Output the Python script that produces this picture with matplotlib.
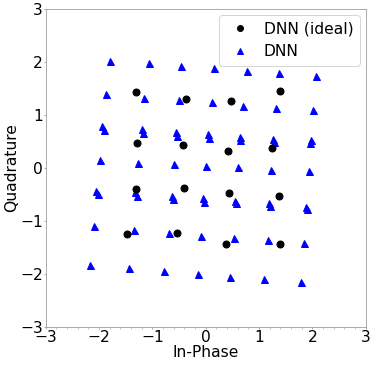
import matplotlib
matplotlib.use("Agg")
import matplotlib.pyplot as plt
from matplotlib.ticker import MultipleLocator

# ideal constellation (DNN ideal)
ideal_i = [-1.31, -0.36, -1.29, -0.43, 1.39, 0.47, 0.42, 1.25,
           -1.30, -0.41, -1.47, -0.54, 0.43, 1.38, 0.375, 1.39]
ideal_q = [1.43, 1.31, 0.48, 0.43, 1.46, 1.27, 0.33, 0.37,
           -0.39, -0.38, -1.24, -1.22, -0.47, -0.53, -1.43, -1.43]

# received points (DNN)
dnn_i = [-1.79, -1.86, -1.94, -1.91, -1.98, -2.05, -2.02, -2.10, -2.16,
         -1.07, -1.15, -1.20, -1.18, -1.26, -1.32, -1.28, -1.35, -1.44,
         -0.46, -0.50, -0.56, -0.53, -0.59, -0.63, -0.61, -0.69, -0.78,
         0.16, 0.11, 0.04, 0.06, 0.00, -0.05, -0.03, -0.08, -0.14,
         0.77, 0.70, 0.65, 0.65, 0.61, 0.55, 0.57, 0.53, 0.46,
         1.38, 1.32, 1.27, 1.28, 1.23, 1.19, 1.20, 1.16, 1.09,
         2.06, 2.01, 1.97, 1.96, 1.93, 1.88, 1.89, 1.85, 1.79]
dnn_q = [2.02, 1.39, 0.80, 0.72, 0.15, -0.43, -0.50, -1.09, -1.84,
         1.98, 1.33, 0.74, 0.66, 0.10, -0.46, -0.53, -1.17, -1.88,
         1.93, 1.29, 0.68, 0.60, 0.07, -0.52, -0.58, -1.23, -1.95,
         1.88, 1.24, 0.64, 0.56, 0.04, -0.56, -0.64, -1.29, -2.01,
         1.83, 1.17, 0.59, 0.53, 0.02, -0.62, -0.67, -1.32, -2.05,
         1.79, 1.13, 0.55, 0.50, -0.03, -0.67, -0.72, -1.36, -2.10,
         1.74, 1.10, 0.53, 0.48, -0.06, -0.73, -0.77, -1.41, -2.15]

fig = plt.figure(figsize=(374/72, 366/72), dpi=72)
ax = fig.add_axes([0.122, 0.107, 0.856, 0.868])

ax.plot(ideal_i, ideal_q, "o", color="black", markersize=7, label="DNN (ideal)", zorder=3)
ax.plot(dnn_i, dnn_q, "^", color="blue", markersize=7, label="DNN", zorder=2)

ax.set_xlim(-3, 3)
ax.set_ylim(-3, 3)
ax.set_xticks([-3, -2, -1, 0, 1, 2, 3])
ax.set_yticks([-3, -2, -1, 0, 1, 2, 3])
ax.xaxis.set_minor_locator(MultipleLocator(0.2))
ax.tick_params(axis="both", which="major", labelsize=15.5, length=2, color="0.6", pad=1)
ax.tick_params(axis="x", which="minor", length=1.5, color="0.6")
for s in ax.spines.values():
    s.set_color("0.6")

ax.set_xlabel("In-Phase", fontsize=15.5, labelpad=0)
ax.set_ylabel("Quadrature", fontsize=15.5, labelpad=1)
ax.legend(loc="upper right", fontsize=15.5, handletextpad=0.5, borderaxespad=0.4,
          markerscale=0.85)

fig.savefig("out.png", dpi=72)
